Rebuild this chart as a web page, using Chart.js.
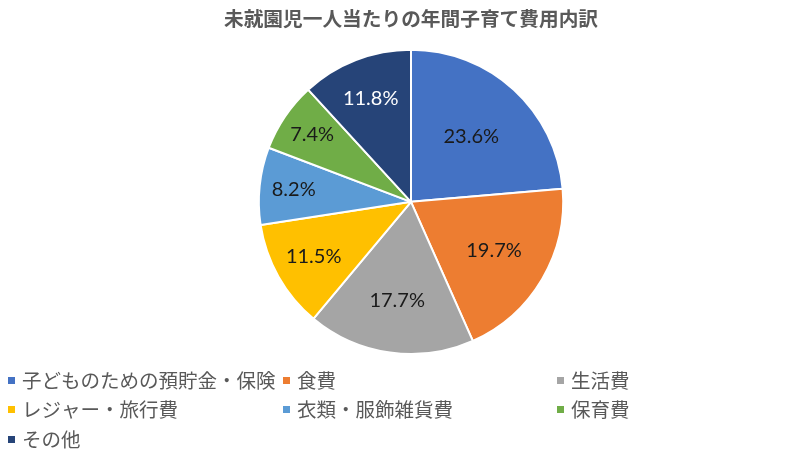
<!DOCTYPE html>
<html>
<head>
<meta charset="utf-8">
<script src="https://cdn.jsdelivr.net/npm/chart.js@4/dist/chart.umd.min.js"></script>
<style>
  html, body { margin: 0; padding: 0; background: #fff; }
  #wrap { width: 800px; height: 459px; position: relative; }
</style>
</head>
<body>
<div id="wrap"><canvas id="pie"></canvas></div>
<script>
/*===== DATA =====*/

const categories = ["子どものための預貯金・保険", "食費", "生活費", "レジャー・旅行費", "衣類・服飾雑貨費", "保育費", "その他"];
const shares = [23.6, 19.7, 17.7, 11.5, 8.2, 7.4, 11.8];
const colours = ["#4472C4", "#ED7D31", "#A5A5A5", "#FFC000", "#5B9BD5", "#70AD47", "#264478"];

const jpFont = "'Noto Sans CJK JP', 'Noto Sans', sans-serif";

/*===== PLUGINS =====*/

// dark slices get white text, like Excel's automatic label colour
var isDark = function(hex) {
    var r = parseInt(hex.substr(1, 2), 16);
    var g = parseInt(hex.substr(3, 2), 16);
    var b = parseInt(hex.substr(5, 2), 16);
    return (0.299 * r + 0.587 * g + 0.114 * b) < 90;
};

// percent labels inside the slices; thinner slices push the label outward
var sliceLabels = {
    id: "sliceLabels",
    afterDatasetsDraw: function(chart) {
        var ctx = chart.ctx;
        var meta = chart.getDatasetMeta(0);
        var bg = chart.data.datasets[0].backgroundColor;
        ctx.save();
        ctx.font = "20px Lato, 'Noto Sans', sans-serif";
        ctx.textAlign = "center";
        ctx.textBaseline = "middle";
        meta.data.forEach(function(arc, i) {
            var p = arc.getProps(["x", "y", "startAngle", "endAngle", "outerRadius"], true);
            var mid = (p.startAngle + p.endAngle) / 2;
            var r = p.outerRadius * (0.70 - 0.0123 * (shares[i] - 14.3));
            ctx.fillStyle = isDark(bg[i]) ? "#ffffff" : "#1a1a1a";
            ctx.fillText(shares[i].toFixed(1) + "%", p.x + Math.cos(mid) * r, p.y + Math.sin(mid) * r);
        });
        ctx.restore();
    }
};

// legend laid out in three columns like the original
var gridLegend = {
    id: "gridLegend",
    afterDraw: function(chart) {
        var ctx = chart.ctx;
        var colX = [8, 283, 557];
        var rowY = [381, 410, 440];
        ctx.save();
        ctx.font = "19.5px " + jpFont;
        ctx.textBaseline = "middle";
        ctx.textAlign = "left";
        chart.data.labels.forEach(function(label, i) {
            var x = colX[i % 3];
            var y = rowY[Math.floor(i / 3)];
            ctx.fillStyle = chart.data.datasets[0].backgroundColor[i];
            ctx.fillRect(x, y - 4, 7, 7);
            ctx.fillStyle = "#595959";
            ctx.fillText(label, x + 14, y);
        });
        ctx.restore();
    }
};

/*===== CHART =====*/

new Chart("pie", {
    type: "pie",
    data: {
        labels: categories,
        datasets: [{
            data: shares,
            backgroundColor: colours,
            borderColor: "#ffffff",
            borderWidth: 2
        }]
    },
    options: {
        responsive: true,
        maintainAspectRatio: false,
        animation: false,
        layout: {
            padding: { left: 22, right: 0, top: 0, bottom: 104 }
        },
        plugins: {
            legend: { display: false },
            tooltip: { enabled: false },
            title: {
                display: true,
                text: "未就園児一人当たりの年間子育て費用内訳",
                color: "#595959",
                font: { family: jpFont, size: 19.7, weight: "bold" },
                padding: { top: 7, bottom: 18 }
            }
        }
    },
    plugins: [sliceLabels, gridLegend]
});
</script>
</body>
</html>
